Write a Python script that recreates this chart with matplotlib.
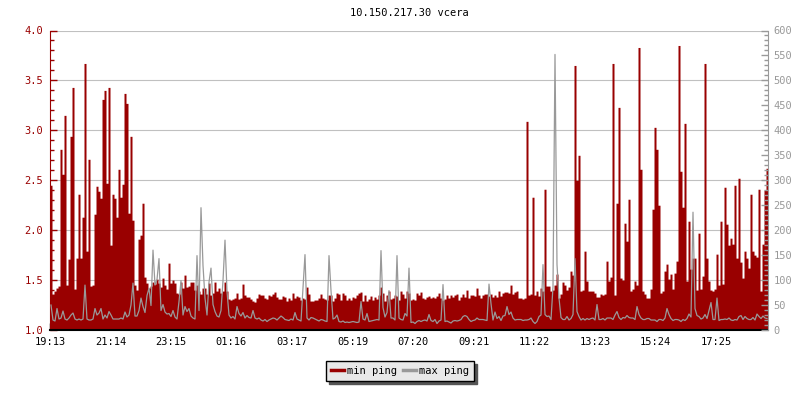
import numpy as np
import matplotlib
matplotlib.use('Agg')
import matplotlib.pyplot as plt
from matplotlib.lines import Line2D
from matplotlib.ticker import MultipleLocator, FormatStrFormatter

# Textos de la grafica
titulo = "10.150.217.30 vcera"
etiquetas_horas = ['19:13', '21:14', '23:15', '01:16', '03:17', '05:19',
                   '07:20', '09:21', '11:22', '13:23', '15:24', '17:25']
nombres_series = ['min ping', 'max ping']

# Minutos entre muestras
paso = 4

# min ping (eje izquierdo, 1.0 - 4.0)
min_ping = [
    2.45, 1.36, 1.39, 1.42, 1.44, 2.81, 2.56, 3.15, 1.45, 1.71,
    2.94, 3.43, 1.41, 1.72, 2.36, 1.72, 2.13, 3.67, 1.79, 2.71,
    1.44, 1.45, 2.16, 2.44, 2.39, 2.32, 3.31, 3.40, 2.47, 3.43,
    1.85, 2.36, 2.32, 2.13, 2.61, 2.33, 2.46, 3.37, 3.27, 2.17,
    2.94, 2.10, 1.45, 1.40, 1.91, 1.95, 2.27, 1.53, 1.47, 1.42,
    1.44, 1.48, 1.46, 1.51, 1.47, 1.43, 1.52, 1.45, 1.41, 1.67,
    1.47, 1.50, 1.47, 1.37, 1.36, 1.48, 1.42, 1.55, 1.43, 1.44,
    1.48, 1.48, 1.40, 1.45, 1.39, 1.36, 1.42, 1.42, 1.36, 1.47,
    1.35, 1.37, 1.48, 1.39, 1.42, 1.37, 1.39, 1.48, 1.39, 1.31,
    1.30, 1.31, 1.32, 1.37, 1.31, 1.32, 1.46, 1.35, 1.33, 1.33,
    1.31, 1.29, 1.28, 1.32, 1.36, 1.35, 1.35, 1.32, 1.31, 1.35,
    1.34, 1.36, 1.38, 1.33, 1.31, 1.31, 1.34, 1.33, 1.29, 1.32,
    1.30, 1.37, 1.32, 1.34, 1.33, 1.30, 1.32, 1.31, 1.43, 1.36,
    1.29, 1.29, 1.30, 1.30, 1.32, 1.36, 1.32, 1.31, 1.30, 1.35,
    1.35, 1.29, 1.32, 1.37, 1.36, 1.30, 1.37, 1.35, 1.30, 1.32,
    1.30, 1.33, 1.32, 1.35, 1.37, 1.38, 1.29, 1.35, 1.29, 1.31,
    1.34, 1.30, 1.33, 1.31, 1.35, 1.43, 1.37, 1.29, 1.35, 1.39,
    1.31, 1.32, 1.35, 1.34, 1.30, 1.39, 1.36, 1.32, 1.39, 1.37,
    1.30, 1.31, 1.30, 1.37, 1.35, 1.38, 1.32, 1.31, 1.33, 1.34,
    1.32, 1.33, 1.32, 1.34, 1.37, 1.32, 1.30, 1.31, 1.35, 1.32,
    1.35, 1.33, 1.35, 1.36, 1.30, 1.33, 1.36, 1.33, 1.40, 1.32,
    1.35, 1.35, 1.34, 1.42, 1.35, 1.32, 1.35, 1.36, 1.36, 1.34,
    1.36, 1.33, 1.35, 1.33, 1.39, 1.34, 1.37, 1.38, 1.38, 1.37,
    1.45, 1.36, 1.38, 1.39, 1.32, 1.32, 1.31, 1.32, 3.09, 1.35,
    1.36, 2.33, 1.35, 1.39, 1.34, 1.42, 1.39, 2.41, 1.44, 1.44,
    1.39, 1.40, 1.45, 1.56, 1.32, 1.36, 1.48, 1.45, 1.40, 1.43,
    1.59, 1.55, 3.65, 2.50, 2.75, 1.39, 1.40, 1.79, 1.49, 1.39,
    1.39, 1.39, 1.37, 1.33, 1.33, 1.36, 1.35, 1.36, 1.69, 1.49,
    1.53, 3.67, 1.35, 2.27, 3.23, 1.52, 1.50, 2.07, 1.89, 2.31,
    1.39, 1.41, 1.49, 1.45, 3.83, 2.61, 1.39, 1.36, 1.32, 1.32,
    1.41, 2.21, 3.03, 2.81, 2.25, 1.37, 1.39, 1.59, 1.66, 1.51,
    1.56, 1.41, 1.57, 1.69, 3.85, 2.59, 2.23, 3.07, 1.49, 2.09,
    1.61, 1.72, 1.72, 1.40, 1.97, 1.41, 1.54, 3.67, 1.72, 1.49,
    1.40, 1.39, 1.41, 1.76, 1.45, 2.09, 1.46, 2.43, 2.06, 1.85,
    1.92, 1.86, 2.45, 1.72, 2.52, 1.68, 1.52, 1.79, 1.72, 1.62,
    2.36, 1.79, 1.75, 1.73, 2.41, 1.39, 1.86, 2.40, 2.62,
]

# max ping (eje derecho, 0 - 600)
max_ping = [
    50, 20, 18, 43, 22, 24, 38, 22, 20, 24,
    30, 34, 22, 20, 22, 20, 22, 90, 22, 20,
    20, 22, 43, 30, 34, 43, 22, 30, 24, 37,
    30, 22, 22, 22, 22, 24, 22, 36, 26, 30,
    50, 94, 28, 28, 39, 64, 47, 35, 69, 84,
    49, 160, 90, 101, 143, 39, 51, 36, 32, 33,
    27, 39, 26, 22, 57, 99, 30, 47, 37, 43,
    28, 24, 22, 149, 39, 245, 129, 64, 30, 96,
    124, 51, 37, 28, 26, 39, 99, 180, 77, 30,
    24, 27, 22, 47, 33, 28, 35, 24, 29, 25,
    24, 39, 24, 22, 24, 20, 18, 21, 17, 20,
    22, 24, 23, 20, 24, 28, 25, 21, 20, 19,
    22, 20, 35, 22, 20, 18, 83, 151, 24, 20,
    25, 24, 22, 20, 18, 21, 20, 18, 17, 149,
    79, 22, 24, 30, 17, 16, 18, 15, 16, 15,
    16, 17, 16, 15, 16, 57, 22, 20, 33, 17,
    18, 19, 20, 21, 20, 159, 45, 26, 35, 79,
    24, 24, 20, 149, 24, 21, 20, 33, 28, 124,
    15, 16, 13, 17, 19, 17, 19, 20, 18, 31,
    19, 17, 21, 13, 18, 20, 91, 17, 18, 16,
    14, 18, 19, 18, 19, 21, 27, 29, 27, 21,
    17, 19, 20, 24, 21, 21, 21, 20, 19, 92,
    53, 20, 36, 23, 27, 19, 28, 29, 47, 31,
    36, 24, 20, 21, 21, 21, 19, 20, 20, 21,
    24, 17, 13, 17, 27, 30, 131, 31, 27, 28,
    21, 87, 552, 131, 64, 25, 21, 21, 27, 20,
    23, 31, 143, 37, 27, 20, 23, 20, 23, 21,
    23, 24, 20, 51, 21, 21, 23, 20, 24, 24,
    24, 21, 30, 37, 25, 21, 25, 24, 29, 25,
    24, 24, 21, 47, 31, 24, 21, 21, 23, 23,
    20, 20, 20, 17, 21, 21, 19, 24, 43, 31,
    23, 19, 21, 21, 20, 17, 21, 19, 23, 32,
    26, 236, 43, 29, 27, 22, 24, 31, 23, 39,
    55, 21, 21, 64, 19, 21, 21, 22, 21, 24,
    20, 19, 21, 20, 27, 29, 21, 27, 23, 21,
    21, 25, 20, 32, 27, 23, 28, 24, 23,
]

rojo = '#990000'
gris = '#999999'

plt.rcParams['font.family'] = 'DejaVu Sans Mono'
plt.rcParams['font.size'] = 7.5

# Tiempo en minutos desde el inicio
t = np.arange(len(min_ping)) * paso
t_ext = np.append(t, t[-1] + paso)
min_ext = np.append(min_ping, min_ping[-1])

# Posicion de las etiquetas del eje x
h0, m0 = map(int, etiquetas_horas[0].split(':'))
pos_horas = []
for h in etiquetas_horas:
    hh, mm = map(int, h.split(':'))
    pos_horas.append((hh * 60 + mm - h0 * 60 - m0) % 1440)

fig = plt.figure(figsize=(8, 4), dpi=100)
ax = fig.add_axes([50 / 800, 70 / 400, 718 / 800, 299.5 / 400])

ax.fill_between(t_ext, 1.0, min_ext, step='post', color=rojo, lw=0)
ax.set_xlim(0, len(min_ping) * paso)
ax.set_ylim(1.0, 4.0)
ax.yaxis.set_major_locator(MultipleLocator(0.5))
ax.yaxis.set_minor_locator(MultipleLocator(0.1))
ax.yaxis.set_major_formatter(FormatStrFormatter('%.1f'))
ax.yaxis.grid(True, color='#c0c0c0', lw=0.8)
ax.set_axisbelow(True)
ax.set_xticks(pos_horas)
ax.set_xticklabels(etiquetas_horas)

ax.tick_params(axis='y', which='major', direction='in', length=5, width=1,
               color=rojo, labelcolor=rojo, pad=5)
ax.tick_params(axis='y', which='minor', direction='in', length=3, width=1, color=rojo)
ax.tick_params(axis='x', direction='in', length=5, width=1, color='black', pad=5)
ax.spines['left'].set_color(rojo)
ax.spines['bottom'].set_linewidth(1.5)
ax.spines['top'].set_visible(False)
ax.spines['right'].set_visible(False)

# Segundo eje para max ping (linea en el centro de cada muestra)
ax2 = ax.twinx()
ax2.plot(t + paso / 2, max_ping, color=gris, lw=0.9)
ax2.set_ylim(0, 600)
ax2.yaxis.set_major_locator(MultipleLocator(50))
ax2.yaxis.set_minor_locator(MultipleLocator(10))
ax2.tick_params(axis='y', which='major', direction='in', length=5, width=1,
                color=gris, labelcolor=gris, pad=4)
ax2.tick_params(axis='y', which='minor', direction='in', length=3, width=1, color=gris)
for s in ['top', 'left', 'bottom']:
    ax2.spines[s].set_visible(False)
ax2.spines['right'].set_color(gris)

fig.text(409 / 800, 1 - 13 / 400, titulo, ha='center', va='center')

manejadores = [Line2D([], [], color=rojo, lw=2.5), Line2D([], [], color=gris, lw=2.5)]
ley = fig.legend(manejadores, nombres_series, loc='center', bbox_to_anchor=(0.5, 1 - 371 / 400),
                 ncol=2, frameon=True, fancybox=False, shadow={'color': '#555555', 'alpha': 1.0},
                 edgecolor='black', facecolor='#e8e8e8', framealpha=1,
                 handlelength=1.2, handletextpad=0.3, columnspacing=0.6, borderpad=0.5)
ley.get_frame().set_linewidth(1)

fig.savefig('out.png', dpi=100)
